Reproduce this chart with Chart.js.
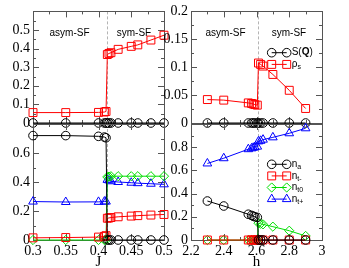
<!DOCTYPE html>
<html>
<head>
<meta charset="utf-8">
<script src="https://cdn.jsdelivr.net/npm/chart.js@4.4.1/dist/chart.umd.min.js"></script>
<style>
  html, body { margin: 0; padding: 0; background: #fff; }
  #wrap { position: relative; width: 349px; height: 268px; }
  #wrap canvas { position: absolute; left: 0; top: 0; }
</style>
</head>
<body>
<div id="wrap">
  <canvas id="tl" width="349" height="268"></canvas>
  <canvas id="tr" width="349" height="268"></canvas>
  <canvas id="bl" width="349" height="268"></canvas>
  <canvas id="br" width="349" height="268"></canvas>
</div>
<script>
// values
const jVals = [0.3, 0.35, 0.4, 0.409, 0.4115, 0.4135, 0.416, 0.419, 0.43, 0.45, 0.46, 0.48, 0.5];
const sqJ   = [0, 0, 0, 0, 0, 0, 0, 0, 0, 0, 0, 0, 0];
const rhoJ  = [0.056, 0.056, 0.057, 0.059, 0.062, 0.368, 0.374, 0.378, 0.396, 0.412, 0.42, 0.446, 0.472];
const naJ   = [0.72, 0.72, 0.715, 0.71, 0.705, 0, 0, 0, 0, 0, 0, 0, 0];
const nbJ   = [0.015, 0.017, 0.02, 0.025, 0.03, 0.15, 0.152, 0.155, 0.16, 0.165, 0.168, 0.172, 0.176];
const n0J   = [0, 0, 0, 0, 0, 0.435, 0.437, 0.44, 0.44, 0.44, 0.44, 0.44, 0.44];
const ntJ   = [0.265, 0.262, 0.263, 0.265, 0.265, 0.415, 0.411, 0.405, 0.4, 0.395, 0.392, 0.388, 0.384];

const hVals = [2.3, 2.4, 2.55, 2.57, 2.58, 2.59, 2.605, 2.612, 2.625, 2.64, 2.7, 2.8, 2.9];
const sqH   = [0, 0, 0, 0, 0, 0, 0, 0, 0, 0, 0, 0, 0];
const rhoH  = [0.042, 0.041, 0.036, 0.035, 0.034, 0.033, 0.032, 0.1075, 0.105, 0.102, 0.087, 0.0586, 0.026];
const naH   = [0.336, 0.293, 0.222, 0.212, 0.205, 0.2, 0.195, 0, 0, 0, 0, 0, 0];
const nbH   = [0, 0, 0, 0, 0, 0, 0, 0, 0, 0, 0, 0, 0];
const n0H   = [0, 0, 0, 0, 0, 0, 0, 0.145, 0.14, 0.135, 0.115, 0.08, 0.035];
const ntH   = [0.66, 0.705, 0.783, 0.79, 0.795, 0.8, 0.805, 0.85, 0.855, 0.865, 0.885, 0.92, 0.963];

const jSplit = 0.4125;
const hSplit = 2.61;

const W = 349, H = 268;
const SERIF = '"Liberation Serif", "Times New Roman", serif';
const SANS = '"Liberation Sans", Arial, sans-serif';
const BLACK = '#000000', RED = '#ff0000', GREEN = '#00dd00', BLUE = '#0000ff';

function series(label, xs, ys, color, style, radius) {
    return {
        label: label,
        data: xs.map((x, i) => ({ x: x, y: ys[i] })),
        borderColor: color,
        backgroundColor: 'rgba(0,0,0,0)',
        pointBorderColor: color,
        pointBackgroundColor: 'rgba(0,0,0,0)',
        pointStyle: style,
        pointRadius: radius,
        pointHoverRadius: radius,
        pointBorderWidth: 1,
        borderWidth: 1,
        showLine: true,
        tension: 0,
        clip: false
    };
}

function fmt(v) {
    return String(+Number(v).toFixed(3));
}

function marker(ctx, style, r, x, y) {
    ctx.beginPath();
    if (style === 'circle') {
        ctx.arc(x, y, r, 0, 2 * Math.PI);
    } else if (style === 'rect') {
        const s = r * Math.SQRT1_2;
        ctx.rect(x - s, y - s, 2 * s, 2 * s);
    } else if (style === 'rectRot') {
        ctx.moveTo(x - r, y); ctx.lineTo(x, y - r); ctx.lineTo(x + r, y); ctx.lineTo(x, y + r);
        ctx.closePath();
    } else if (style === 'triangle') {
        for (let k = 0; k < 3; k++) {
            const a = k * 2 * Math.PI / 3;
            const px = x + Math.sin(a) * r, py = y - Math.cos(a) * r;
            if (k === 0) ctx.moveTo(px, py); else ctx.lineTo(px, py);
        }
        ctx.closePath();
    }
    ctx.stroke();
}

function drawTicks(ctx, scale, a, major, minor, horizontal) {
    const n = Math.round((scale.max - scale.min) / minor);
    const every = Math.round(major / minor);
    ctx.beginPath();
    for (let i = 1; i < n; i++) {
        const len = i % every === 0 ? 6 : 3;
        const p = Math.round(scale.getPixelForValue(scale.min + i * minor)) + 0.5;
        if (horizontal) {
            ctx.moveTo(p, a.top); ctx.lineTo(p, a.top + len);
            ctx.moveTo(p, a.bottom); ctx.lineTo(p, a.bottom - len);
        } else {
            ctx.moveTo(a.left, p); ctx.lineTo(a.left + len, p);
            ctx.moveTo(a.right, p); ctx.lineTo(a.right - len, p);
        }
    }
    ctx.stroke();
}

function drawParts(ctx, parts, x, y) {
    ctx.textBaseline = 'middle';
    ctx.textAlign = 'left';
    parts.forEach(p => {
        const sub = p[1] === 'sub';
        ctx.font = (p[1] === 'bold' ? 'bold ' : '') + (sub ? 7 : 10) + 'px ' + SANS;
        ctx.fillText(p[0], x, sub ? y + 3 : y);
        x += ctx.measureText(p[0]).width;
    });
}

function deco(cfg) {
    return {
        id: 'deco',
        beforeDatasetsDraw(chart) {
            const ctx = chart.ctx, a = chart.chartArea;
            const x = chart.scales.x, y = chart.scales.y;
            ctx.save();
            // transition line
            const px = Math.round(x.getPixelForValue(cfg.split)) + 0.5;
            ctx.strokeStyle = '#b4b4b4';
            ctx.lineWidth = 1;
            ctx.setLineDash([3, 2]);
            ctx.beginPath();
            ctx.moveTo(px, a.top); ctx.lineTo(px, a.bottom);
            ctx.stroke();
            ctx.setLineDash([]);
            // frame with inward ticks
            ctx.strokeStyle = '#555';
            ctx.strokeRect(Math.round(a.left) + 0.5, Math.round(a.top) + 0.5,
                Math.round(a.right - a.left), Math.round(a.bottom - a.top));
            drawTicks(ctx, x, a, cfg.xMajor, cfg.xMinor, true);
            drawTicks(ctx, y, a, cfg.yMajor, cfg.yMinor, false);
            // phase labels
            if (cfg.phases) {
                ctx.fillStyle = '#000';
                ctx.font = '10px ' + SANS;
                ctx.textAlign = 'center';
                ctx.textBaseline = 'middle';
                cfg.phases.forEach(p => ctx.fillText(p[0], a.left + p[1], a.top + p[2]));
            }
            ctx.restore();
        },
        afterDatasetsDraw(chart) {
            if (!cfg.legend) return;
            const ctx = chart.ctx, a = chart.chartArea;
            ctx.save();
            cfg.legend.forEach((item, k) => {
                const ds = chart.data.datasets[item.ds];
                const y = a.top + cfg.legendTop + k * cfg.legendGap;
                const x1 = a.left + cfg.legendLeft, x2 = x1 + 15;
                ctx.strokeStyle = ds.borderColor;
                ctx.lineWidth = 1;
                ctx.beginPath();
                ctx.moveTo(x1, y); ctx.lineTo(x2, y);
                ctx.stroke();
                marker(ctx, ds.pointStyle, ds.pointRadius, x1, y);
                marker(ctx, ds.pointStyle, ds.pointRadius, x2, y);
                ctx.fillStyle = '#000';
                drawParts(ctx, item.text, x2 + 5, y);
            });
            ctx.restore();
        }
    };
}

function makePanel(id, box, xo, yo, datasets, cfg) {
    const yW = 30;
    const xH = xo.title ? 28 : 0;
    new Chart(document.getElementById(id), {
        type: 'scatter',
        data: { datasets: datasets },
        options: {
            responsive: false,
            animation: false,
            events: [],
            layout: {
                padding: { left: box.l - yW, top: box.t, right: W - box.r, bottom: H - box.b - xH }
            },
            plugins: { legend: { display: false }, tooltip: { enabled: false } },
            scales: {
                x: {
                    type: 'linear',
                    min: xo.min, max: xo.max,
                    display: !!xo.title,
                    grid: { display: false, drawTicks: false },
                    border: { display: false },
                    ticks: {
                        stepSize: xo.step, autoSkip: false, maxRotation: 0, padding: 3,
                        color: '#000', font: { family: SERIF, size: 14 },
                        callback: fmt
                    },
                    title: {
                        display: !!xo.title, text: xo.title, color: '#000',
                        font: { family: SERIF, size: 15, lineHeight: 0.75 },
                        padding: { top: 0, bottom: 0 }
                    },
                    afterFit: s => { if (xo.title) s.height = xH; }
                },
                y: {
                    type: 'linear',
                    min: yo.min, max: yo.max,
                    grid: { display: false, drawTicks: false },
                    border: { display: false },
                    ticks: {
                        stepSize: yo.step, autoSkip: false, padding: 3,
                        color: '#000', font: { family: SERIF, size: 14 },
                        callback: v => (yo.hideTop && Math.abs(v - yo.max) < 1e-9) ? '' : fmt(v)
                    },
                    afterFit: s => { s.width = yW; }
                }
            }
        },
        plugins: [deco(cfg)]
    });
}

// top left: rho_s and S(Q) vs J
makePanel('tl', { l: 33, t: 7, r: 164, b: 123 },
    { min: 0.3, max: 0.5, step: 0.05 },
    { min: 0, max: 0.6, step: 0.1, hideTop: true },
    [
        series('S(Q)', jVals, sqJ, BLACK, 'circle', 4.3),
        series('rho_s', jVals, rhoJ, RED, 'rect', 5.6)
    ],
    { split: jSplit, xMajor: 0.05, xMinor: 0.025, yMajor: 0.1, yMinor: 0.05,
      phases: [['asym-SF', 36.5, 21.5], ['sym-SF', 101, 21.5]] });

// top right: rho_s and S(Q) vs h
makePanel('tr', { l: 191, t: 7, r: 322, b: 123 },
    { min: 2.2, max: 3, step: 0.2 },
    { min: 0, max: 0.2, step: 0.05 },
    [
        series('S(Q)', hVals, sqH, BLACK, 'circle', 4.3),
        series('rho_s', hVals, rhoH, RED, 'rect', 5.6)
    ],
    { split: hSplit, xMajor: 0.2, xMinor: 0.1, yMajor: 0.05, yMinor: 0.025,
      phases: [['asym-SF', 34.5, 21.5], ['sym-SF', 98, 21.5]],
      legendLeft: 80.7, legendTop: 41.3, legendGap: 11.7,
      legend: [
          { ds: 0, text: [['S(', ''], ['Q', 'bold'], [')', '']] },
          { ds: 1, text: [['\u03c1', ''], ['s', 'sub']] }
      ] });

// bottom left: densities vs J
makePanel('bl', { l: 33, t: 124, r: 164, b: 240 },
    { min: 0.3, max: 0.5, step: 0.05, title: 'J' },
    { min: 0, max: 0.8, step: 0.2, hideTop: true },
    [
        series('n_a', jVals, naJ, BLACK, 'circle', 4.3),
        series('n_t-', jVals, nbJ, RED, 'rect', 5.6),
        series('n_t0', jVals, n0J, GREEN, 'rectRot', 4.6),
        series('n_t+', jVals, ntJ, BLUE, 'triangle', 5)
    ],
    { split: jSplit, xMajor: 0.05, xMinor: 0.025, yMajor: 0.2, yMinor: 0.1 });

// bottom right: densities vs h
makePanel('br', { l: 191, t: 124, r: 322, b: 240 },
    { min: 2.2, max: 3, step: 0.2, title: 'h' },
    { min: 0, max: 1, step: 0.2, hideTop: true },
    [
        series('n_a', hVals, naH, BLACK, 'circle', 4.3),
        series('n_t-', hVals, nbH, RED, 'rect', 5.6),
        series('n_t0', hVals, n0H, GREEN, 'rectRot', 4.6),
        series('n_t+', hVals, ntH, BLUE, 'triangle', 5)
    ],
    { split: hSplit, xMajor: 0.2, xMinor: 0.1, yMajor: 0.2, yMinor: 0.1,
      legendLeft: 80.7, legendTop: 40.3, legendGap: 11.6,
      legend: [
          { ds: 0, text: [['n', ''], ['a', 'sub']] },
          { ds: 1, text: [['n', ''], ['t-', 'sub']] },
          { ds: 2, text: [['n', ''], ['t0', 'sub']] },
          { ds: 3, text: [['n', ''], ['t+', 'sub']] }
      ] });
</script>
</body>
</html>
